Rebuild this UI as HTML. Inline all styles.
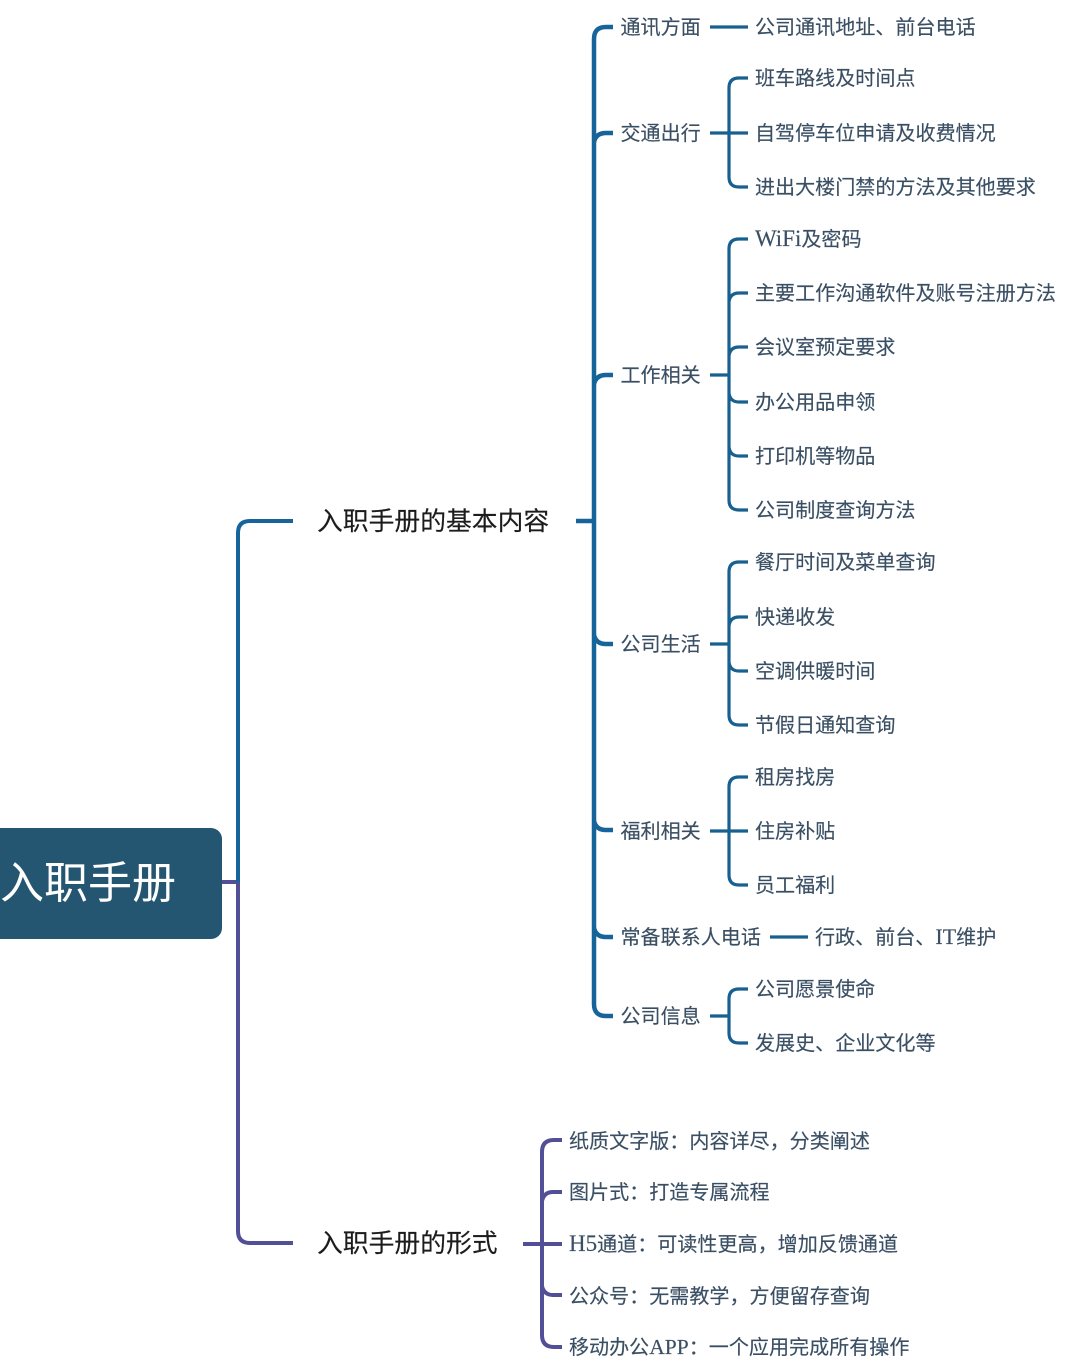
<!DOCTYPE html>
<html>
<head>
<meta charset="utf-8">
<style>
html,body{margin:0;padding:0;background:#fff;}
svg{display:block;}
text{font-family:"Liberation Serif","Noto Sans CJK SC",sans-serif;font-size:20.07px;fill:#3a4f63;stroke:#3a4f63;stroke-width:.15px;}
tspan.l{font-size:23px;}
tspan.m{font-size:22px;}
tspan.s{font-size:21.5px;}
.h{font-family:"Liberation Sans","Noto Sans CJK SC",sans-serif;font-size:25.8px;fill:#1c1c1c;stroke:#1c1c1c;}
.r{font-family:"Liberation Sans","Noto Sans CJK SC",sans-serif;font-size:44px;fill:#fff;stroke:none;}
.b,.c,.p{fill:none;stroke-linecap:butt;}
.b{stroke:#17649b;stroke-width:4.5;}
.c{stroke:#17608f;stroke-width:3.2;}
.p{stroke:#534f96;stroke-width:4;}
</style>
</head>
<body>
<svg width="1080" height="1371" viewBox="0 0 1080 1371" xmlns="http://www.w3.org/2000/svg">
<rect x="-20" y="828" width="242" height="111" rx="11" fill="#245672"/>
<text class="r" x="0" y="898">入职手册</text>

<path class="p" d="M222 882H238V1231Q238 1243 250 1243H293"/>
<path class="b" style="stroke-width:4" d="M293 521H250Q238 521 238 533V882"/>
<text class="h" x="317" y="530">入职手册的基本内容</text>
<text class="h" x="317" y="1252">入职手册的形式</text>

<path class="b" d="M576 521H594"/>
<path class="b" d="M613 27H606Q594 27 594 39V1004Q594 1016 606 1016H613"/>
<path class="b" d="M613 133H606Q596 133 594 142"/>
<path class="b" d="M613 375H606Q596 375 594 384"/>
<path class="b" d="M594 635Q596 644 606 644H613"/>
<path class="b" d="M594 821Q596 830 606 830H613"/>
<path class="b" d="M594 928Q596 937 606 937H613"/>

<text x="620.5" y="34">通讯方面</text>
<text x="620.5" y="140">交通出行</text>
<text x="620.5" y="382">工作相关</text>
<text x="620.5" y="651">公司生活</text>
<text x="620.5" y="838">福利相关</text>
<text x="620.5" y="944">常备联系人电话</text>
<text x="620.5" y="1023">公司信息</text>

<path class="c" d="M710 27H748"/>
<text x="755" y="34">公司通讯地址、前台电话</text>

<path class="c" d="M710 133H748M748 78H739Q729 78 729 88V177Q729 187 739 187H748"/>
<text x="755" y="85">班车路线及时间点</text>
<text x="755" y="140">自驾停车位申请及收费情况</text>
<text x="755" y="194">进出大楼门禁的方法及其他要求</text>

<path class="c" d="M710 375H729M748 239H739Q729 239 729 249V500Q729 510 739 510H748M748 293H739Q730 293 729 302M748 347H739Q730 347 729 356M729 393Q730 402 739 402H748M729 447Q730 456 739 456H748"/>
<text x="755" y="246"><tspan class="l">WiFi</tspan>及密码</text>
<text x="755" y="300">主要工作沟通软件及账号注册方法</text>
<text x="755" y="354">会议室预定要求</text>
<text x="755" y="409">办公用品申领</text>
<text x="755" y="463">打印机等物品</text>
<text x="755" y="517">公司制度查询方法</text>

<path class="c" d="M710 644H729M748 562H739Q729 562 729 572V715Q729 725 739 725H748M748 617H739Q730 617 729 626M729 662Q730 671 739 671H748"/>
<text x="755" y="569">餐厅时间及菜单查询</text>
<text x="755" y="624">快递收发</text>
<text x="755" y="678">空调供暖时间</text>
<text x="755" y="732">节假日通知查询</text>

<path class="c" d="M710 831H748M748 777H739Q729 777 729 787V875Q729 885 739 885H748"/>
<text x="755" y="784">租房找房</text>
<text x="755" y="838">住房补贴</text>
<text x="755" y="892">员工福利</text>

<path class="c" d="M770 937H808"/>
<text x="815" y="944">行政、前台、<tspan class="m">IT</tspan>维护</text>

<path class="c" d="M710 1016H729M748 989H739Q729 989 729 999V1033Q729 1043 739 1043H748"/>
<text x="755" y="996">公司愿景使命</text>
<text x="755" y="1050">发展史、企业文化等</text>

<path class="p" d="M523 1244H562M562 1140H554Q542 1140 542 1152V1335Q542 1347 554 1347H562M562 1192H553Q544 1192 542 1201M542 1286Q544 1295 553 1295H562"/>
<text x="569" y="1148">纸质文字版：内容详尽，分类阐述</text>
<text x="569" y="1199">图片式：打造专属流程</text>
<text x="569" y="1251"><tspan class="l">H5</tspan>通道：可读性更高，增加反馈通道</text>
<text x="569" y="1303">公众号：无需教学，方便留存查询</text>
<text x="569" y="1354">移动办公<tspan class="s">APP</tspan>：一个应用完成所有操作</text>
</svg>
</body>
</html>
